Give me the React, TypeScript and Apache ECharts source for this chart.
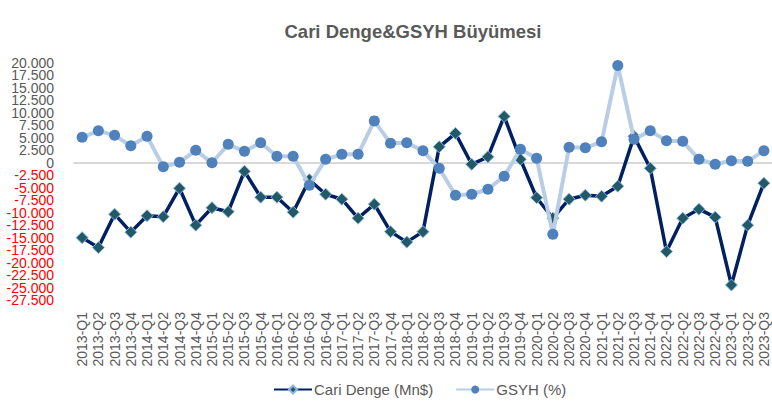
import React, { useEffect, useRef } from "react";
import * as echarts from "echarts";

const categories = [
  "2013-Q1", "2013-Q2", "2013-Q3", "2013-Q4",
  "2014-Q1", "2014-Q2", "2014-Q3", "2014-Q4",
  "2015-Q1", "2015-Q2", "2015-Q3", "2015-Q4",
  "2016-Q1", "2016-Q2", "2016-Q3", "2016-Q4",
  "2017-Q1", "2017-Q2", "2017-Q3", "2017-Q4",
  "2018-Q1", "2018-Q2", "2018-Q3", "2018-Q4",
  "2019-Q1", "2019-Q2", "2019-Q3", "2019-Q4",
  "2020-Q1", "2020-Q2", "2020-Q3", "2020-Q4",
  "2021-Q1", "2021-Q2", "2021-Q3", "2021-Q4",
  "2022-Q1", "2022-Q2", "2022-Q3", "2022-Q4",
  "2023-Q1", "2023-Q2", "2023-Q3",
];

const cariDenge = [
  -15000, -17000, -10300, -13900, -10600, -10800, -5100, -12500, -9000, -9800, -1700, -6900,
  -6900, -9900, -3400, -6300, -7300, -11100, -8300, -13800, -15900, -13800,
  3200, 5900, -300, 1200, 9300,
  700, -7000, -11100, -7300, -6500, -6700, -4700, 5300, -1100, -17800, -11100, -9300, -10900, -24500, -12500, -4100,
];

const gsyh = [
  5.1, 6.4, 5.5, 3.4, 5.3, -0.8, 0.1, 2.5, 0.0, 3.7, 2.3, 4.0,
  1.3, 1.3, -4.5, 0.7, 1.7, 1.7, 8.4, 3.9, 4.0, 2.4,
  -1.1, -6.5, -6.3, -5.3, -2.7,
  2.7, 0.9, -14.3, 3.1, 3.0, 4.2, 19.5, 4.7, 6.4, 4.4, 4.3, 0.7, -0.3, 0.4, 0.3, 2.4,
];

const yMin = -27500;
const yMax = 20000;
const yStep = 2500;

const seriesNames = ["Cari Denge (Mn$)", "GSYH (%)"];
const chartTitle = "Cari Denge&GSYH Büyümesi";

const FONT = "Liberation Sans";
const GRAY = "#595959";

function fmt(v: number): string {
  const s = Math.abs(v).toString().replace(/\B(?=(\d{3})+(?!\d))/g, ".");
  return (v < 0 ? "-" : "") + s;
}

function labelAxis(parity: number, showMin: boolean, showMax: boolean) {
  return {
    type: "value",
    position: "left",
    min: yMin,
    max: yMax,
    interval: yStep,
    splitLine: { show: false },
    axisLine: { show: false },
    axisTick: { show: false },
    axisLabel: {
      margin: 20,
      showMinLabel: showMin,
      showMaxLabel: showMax,
      fontFamily: FONT,
      fontSize: 14,
      formatter: (v: number) => {
        const k = Math.round((v - yMin) / yStep);
        if (k % 2 !== parity) return "";
        return v < 0 ? `{n|${fmt(v)}}` : `{p|${fmt(v)}}`;
      },
      rich: {
        n: { color: "#FF0000", fontFamily: FONT, fontSize: 14 },
        p: { color: GRAY, fontFamily: FONT, fontSize: 14 },
      },
    },
  };
}

export default function App() {
  const ref = useRef<HTMLDivElement>(null);
  useEffect(() => {
    if (!ref.current) return;
    const chart = echarts.init(ref.current, undefined, { renderer: "svg" });
    chart.setOption({
      animation: false,
      backgroundColor: "#ffffff",
      title: {
        text: chartTitle,
        left: 408,
        top: 17,
        textAlign: "center",
        textStyle: { fontFamily: FONT, fontSize: 18.5, fontWeight: "bold", color: GRAY },
      },
      legend: {
        bottom: 4,
        left: 268,
        itemWidth: 38,
        itemHeight: 10,
        itemGap: 22,
        textStyle: { fontFamily: FONT, fontSize: 15, color: GRAY, padding: [0, 0, 0, -3] },
        data: seriesNames,
      },
      grid: { left: 74, right: 0, top: 63, bottom: 106 },
      xAxis: [
        {
          type: "category",
          data: categories,
          boundaryGap: true,
          axisLine: { show: false, onZero: false },
          axisTick: { show: false },
          axisLabel: {
            interval: 0,
            rotate: 90,
            margin: 12,
            fontFamily: FONT,
            fontSize: 14,
            color: GRAY,
          },
        },
        {
          type: "category",
          data: categories,
          boundaryGap: true,
          position: "bottom",
          axisLine: { show: true, onZero: true, lineStyle: { color: "#d9d9d9", width: 2 } },
          axisTick: { show: false },
          axisLabel: { show: false },
        },
      ],
      yAxis: [
        labelAxis(0, true, false),
        labelAxis(1, false, true),
        {
          type: "value",
          min: -27.5,
          max: 20,
          show: false,
          splitLine: { show: false },
        },
      ],
      series: [
        {
          name: seriesNames[0],
          type: "line",
          data: cariDenge,
          xAxisIndex: 0,
          yAxisIndex: 0,
          symbol: "diamond",
          symbolSize: 12,
          lineStyle: { color: "#002060", width: 3.5 },
          itemStyle: { color: "#215A66", borderColor: "#8EB4E3", borderWidth: 1 },
          z: 2,
        },
        {
          name: seriesNames[1],
          type: "line",
          data: gsyh,
          xAxisIndex: 0,
          yAxisIndex: 2,
          symbol: "circle",
          symbolSize: 11,
          lineStyle: { color: "#B9CDE5", width: 4 },
          itemStyle: { color: "#4F81BD", borderColor: "#4F81BD", borderWidth: 0 },
          z: 3,
        },
      ],
    });
    return () => chart.dispose();
  }, []);
  return (
    <div
      ref={ref}
      style={{ position: "fixed", left: 0, top: 0, width: 772, height: 406, background: "#fff" }}
    />
  );
}
